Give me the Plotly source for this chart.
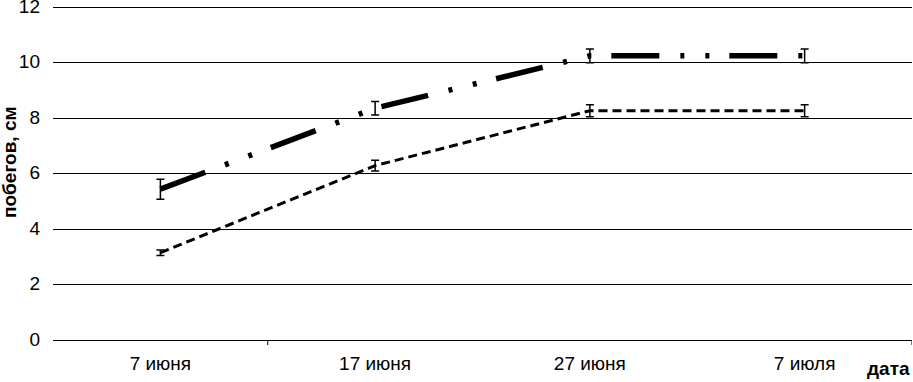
import plotly.graph_objects as go

categories = ["7 июня", "17 июня", "27 июня", "7 июля"]
series_a = [5.44, 8.36, 10.25, 10.25]
series_a_err = [0.36, 0.24, 0.25, 0.25]
series_b = [3.15, 6.29, 8.27, 8.27]
series_b_err = [0.1, 0.19, 0.22, 0.22]
y_ticks = [0, 2, 4, 6, 8, 10, 12]

FONT = "Liberation Sans, Arial, sans-serif"

fig = go.Figure()
fig.add_trace(go.Scatter(
    x=categories, y=series_b, mode="lines",
    line=dict(color="black", width=3, dash="9px,5px"),
    error_y=dict(type="data", array=series_b_err, color="black", thickness=1.5, width=4),
    showlegend=False, cliponaxis=False,
))
fig.add_trace(go.Scatter(
    x=categories, y=series_a, mode="lines",
    line=dict(color="black", width=5.5, dash="48px,21px,4px,21px,4px,20px"),
    error_y=dict(type="data", array=series_a_err, color="black", thickness=1.5, width=4),
    showlegend=False, cliponaxis=False,
))

# tick marks at category boundaries seen in the reference
for xb in [0.5, 3.5]:
    fig.add_shape(type="line", xref="x", yref="paper", x0=xb, x1=xb, y0=0, y1=-0.015,
                  line=dict(color="black", width=1))

fig.add_annotation(text="<b>побегов, см</b>", xref="paper", yref="paper",
                   x=-0.050, y=0.53, textangle=-90, showarrow=False,
                   xanchor="center", yanchor="middle",
                   font=dict(family=FONT, size=19, color="black"))
fig.add_annotation(text="<b>дата</b>", xref="paper", yref="paper",
                   x=1.0, y=-0.086, showarrow=False,
                   xanchor="right", yanchor="middle",
                   font=dict(family=FONT, size=19, color="black"))

fig.update_layout(
    width=913, height=382,
    margin=dict(l=53, r=1, t=4, b=42),
    paper_bgcolor="white", plot_bgcolor="white",
    font=dict(family=FONT, size=18, color="black"),
    xaxis=dict(type="category", range=[-0.5, 3.5], showgrid=False, zeroline=False,
               showline=True, linecolor="black", linewidth=1, ticks="",
               tickfont=dict(size=19), ticklabelstandoff=6, automargin=False),
    yaxis=dict(range=[0, 12.12], tickvals=y_ticks, showgrid=True, gridcolor="black",
               gridwidth=1, zeroline=False, showline=False, ticks="",
               tickfont=dict(size=19), ticklabelstandoff=12, automargin=False,
               ticklabeloverflow="allow", ticklabelshift=-1),
)

fig.write_html("out.html", post_script="document.body.style.margin='0';",
               config={"displayModeBar": False})
